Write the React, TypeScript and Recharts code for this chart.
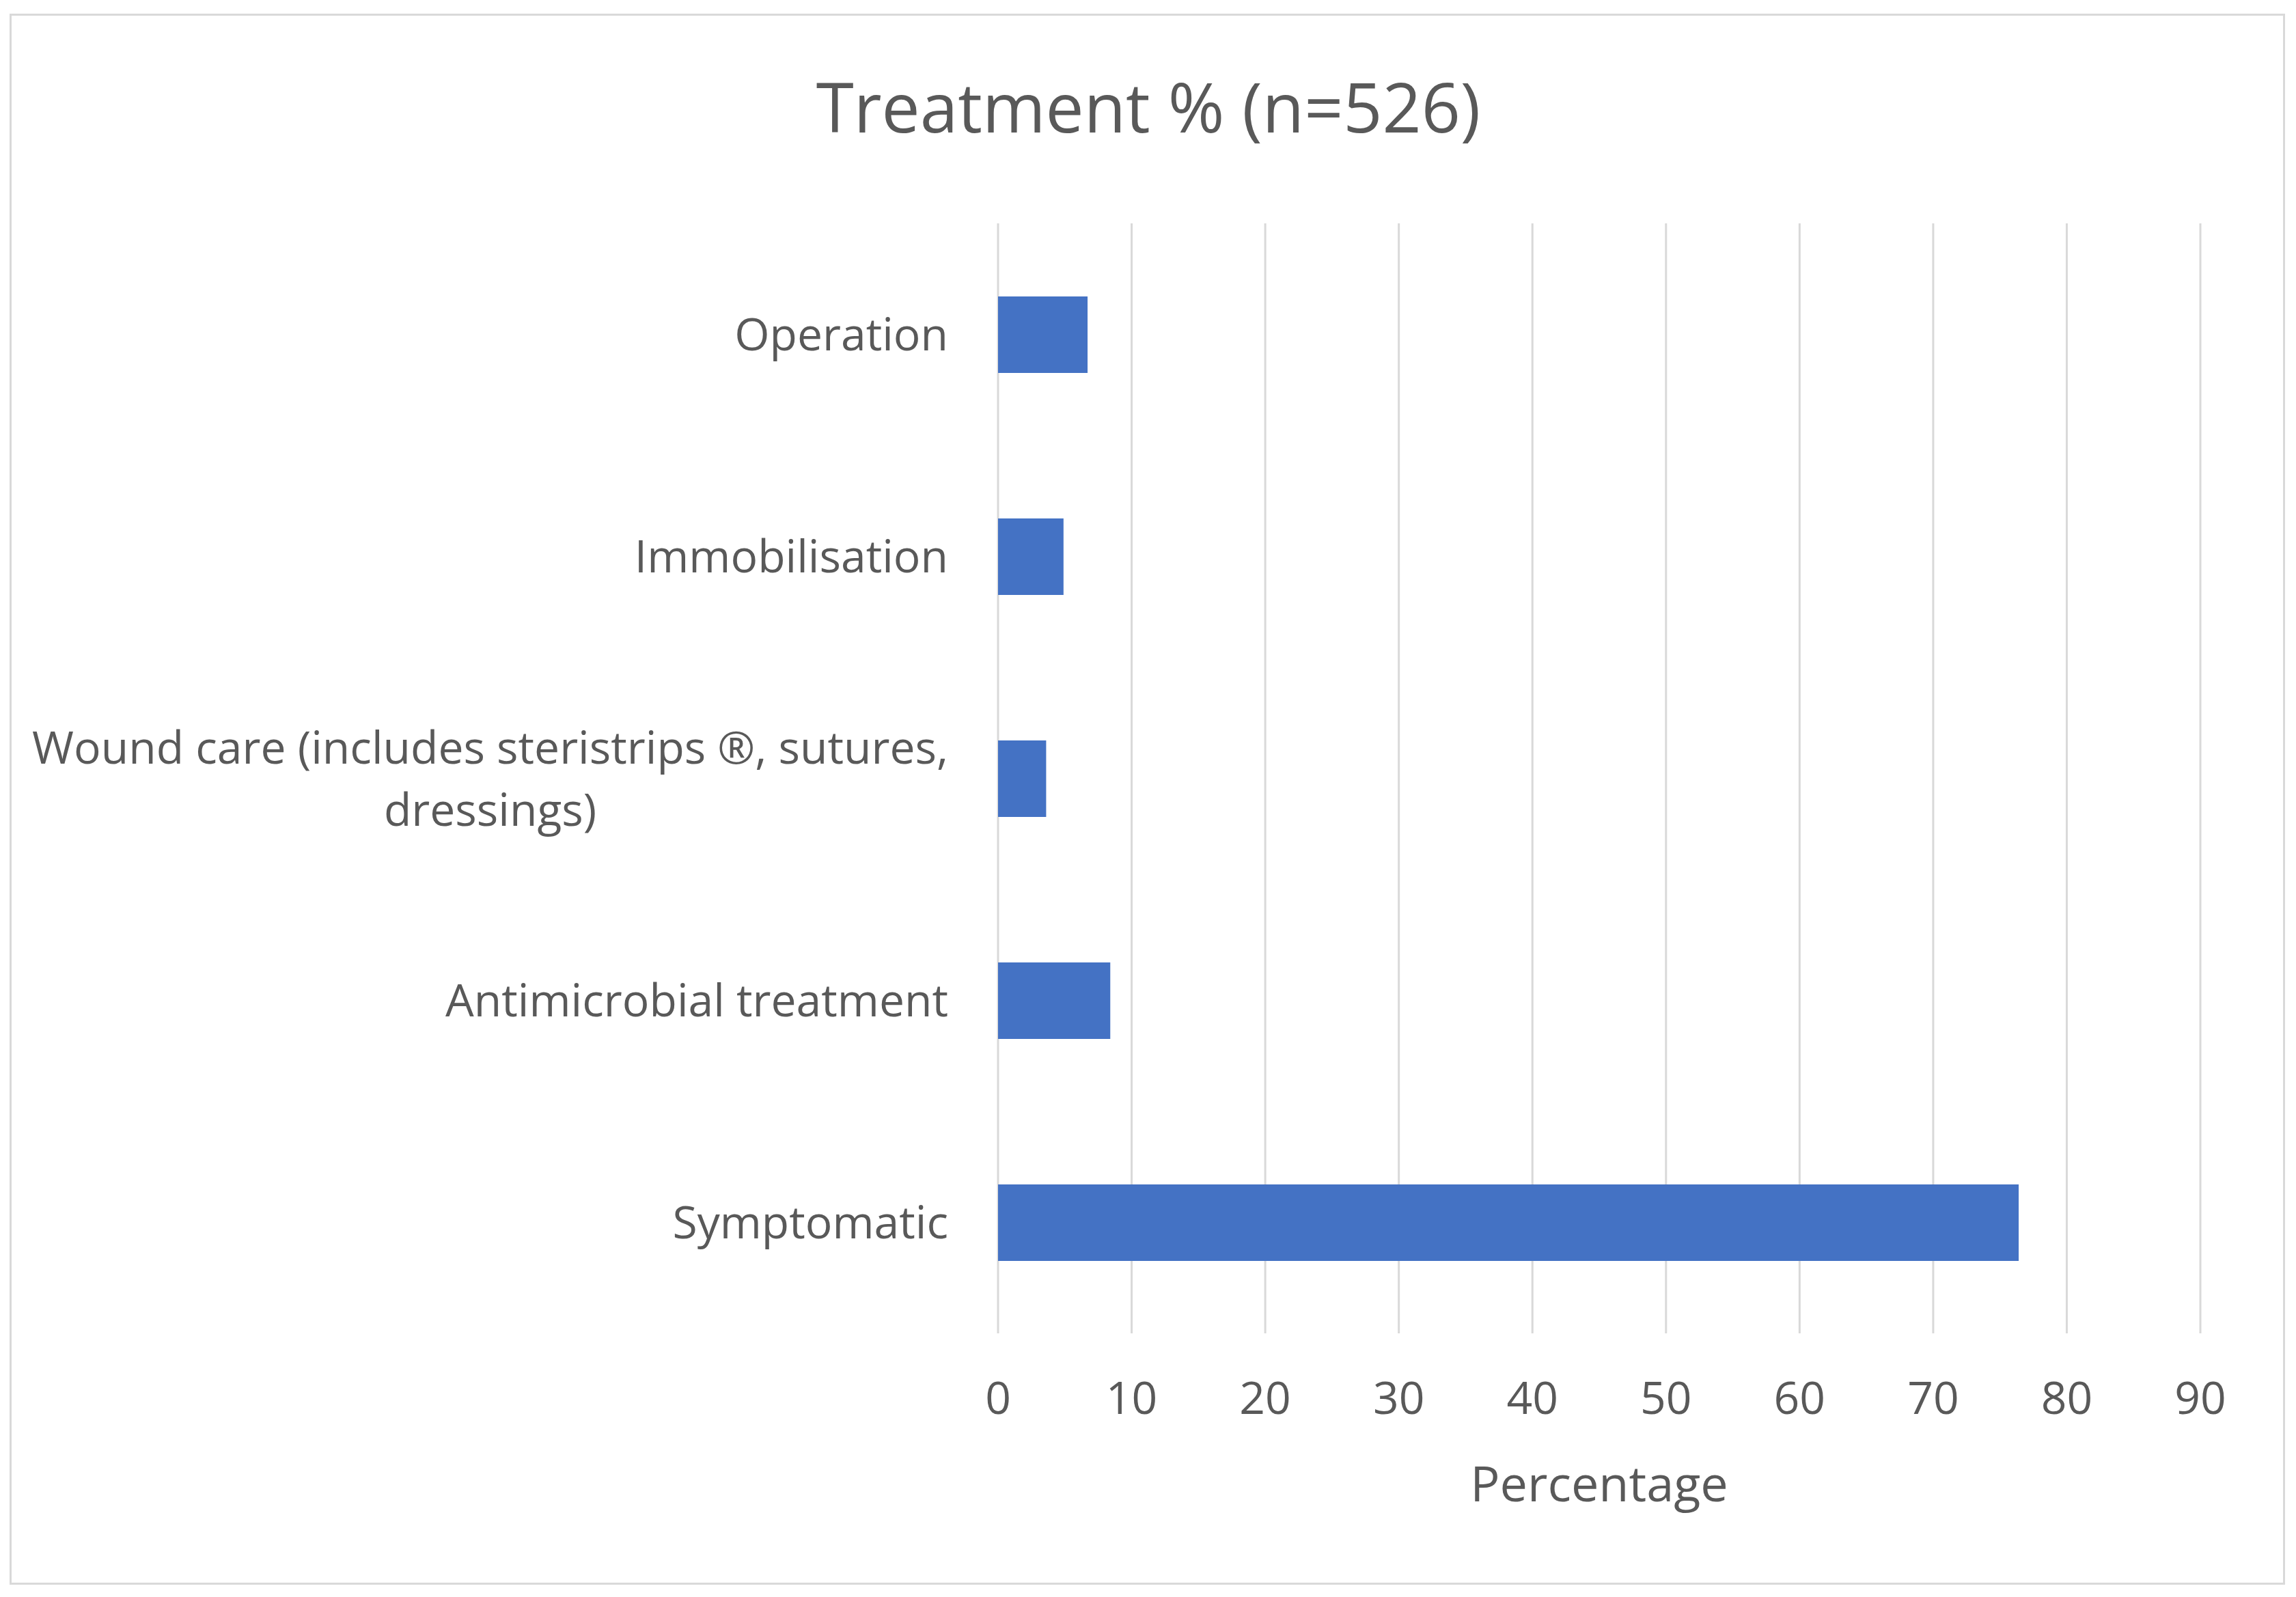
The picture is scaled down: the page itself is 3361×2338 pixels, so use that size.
import React from 'react'
import { BarChart, Bar, XAxis, YAxis, CartesianGrid, Label } from 'recharts'

const categories = [
  'Operation',
  'Immobilisation',
  'Wound care (includes steristrips ®, sutures,\ndressings)',
  'Antimicrobial treatment',
  'Symptomatic',
]
const percentages = [6.7, 4.9, 3.6, 8.4, 76.4]
const xTicks = [0, 10, 20, 30, 40, 50, 60, 70, 80, 90]

const W = 3361
const H = 2338
const FONT = '"Open Sans", "Noto Sans", sans-serif'
const TEXT = '#595959'
const GRID = '#D9D9D9'
const TICK_SIZE = 66

function textWidth(s: string, size: number) {
  const ctx = document.createElement('canvas').getContext('2d')
  if (!ctx) return s.length * size * 0.5
  ctx.font = `${size}px "Open Sans"`
  return ctx.measureText(s).width
}

function CategoryTick(props: any) {
  const { x, y, payload } = props
  const lines = String(payload.value).split('\n')
  if (lines.length === 1) {
    return (
      <text x={x} y={y} dy="0.36em" textAnchor="end" fill={TEXT} fontSize={TICK_SIZE} fontFamily={FONT}>
        {lines[0]}
      </text>
    )
  }
  const lh = 91
  const w = textWidth(lines[0], TICK_SIZE)
  const top = y - ((lines.length - 1) * lh) / 2
  return (
    <g>
      {lines.map((ln, i) => (
        <text key={i} x={i === 0 ? x : x - w / 2} y={top + i * lh} dy="0.36em"
          textAnchor={i === 0 ? 'end' : 'middle'} fill={TEXT} fontSize={TICK_SIZE} fontFamily={FONT}>
          {ln}
        </text>
      ))}
    </g>
  )
}

function ValueTick(props: any) {
  const { x, y, payload } = props
  return (
    <text x={x} y={y} dy="0.72em" textAnchor="middle" fill={TEXT} fontSize={TICK_SIZE} fontFamily={FONT}>
      {payload.value}
    </text>
  )
}

export default function App() {
  const data = categories.map((name, i) => ({ name, value: percentages[i] }))

  return (
    <div style={{ position: 'absolute', left: 0, top: 0, width: W, height: H, background: '#fff' }}>
      <div style={{
        position: 'absolute', left: 14, top: 20, width: 3331, height: 2300,
        border: `3px solid ${GRID}`, boxSizing: 'border-box',
      }} />
      <svg width={W} height={H} style={{ position: 'absolute', left: 0, top: 0 }}>
        <text x={1681} y={194} textAnchor="middle" fill={TEXT} fontSize={100} fontFamily={FONT}>
          Treatment % (n=526)
        </text>
      </svg>
      <div style={{ position: 'absolute', left: 0, top: 0 }}>
        <BarChart width={W} height={H} data={data} layout="vertical"
          margin={{ top: 327, right: 140, bottom: 86, left: 0 }}>
          <CartesianGrid horizontal={false} stroke={GRID} strokeWidth={3} />
          <XAxis type="number" domain={[0, 90]} ticks={xTicks} interval={0}
            axisLine={false} tickLine={false} tickSize={0} tickMargin={70} height={300}
            tick={<ValueTick />}>
            <Label content={(p: any) => {
              const vb = p.viewBox
              return (
                <text x={vb.x + vb.width / 2} y={vb.y + 246} textAnchor="middle"
                  fill={TEXT} fontSize={72} fontFamily={FONT}>Percentage</text>
              )
            }} />
          </XAxis>
          <YAxis type="category" dataKey="name" width={1461} axisLine={false} tickLine={false}
            tickSize={0} tickMargin={73} interval={0} tick={<CategoryTick />} />
          <Bar dataKey="value" fill="#4472C4" barSize={112} isAnimationActive={false} />
        </BarChart>
      </div>
    </div>
  )
}
